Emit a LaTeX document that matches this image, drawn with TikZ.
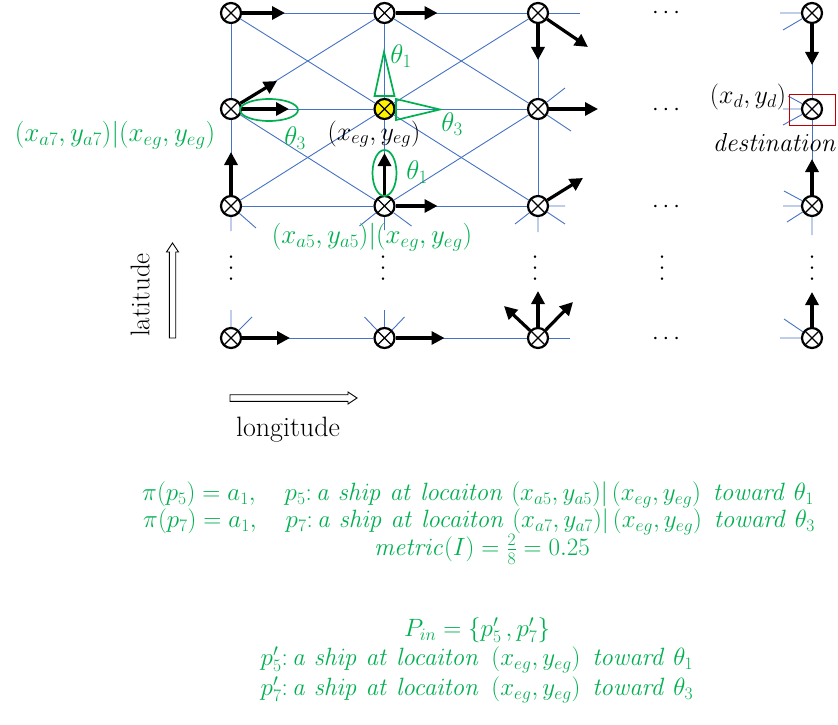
\RequirePackage{fix-cm}
\documentclass[tikz,border=0pt]{standalone}
\usepackage{amsmath, amssymb}
\usepackage{tikz}
\usepackage{xcolor}
\usetikzlibrary{arrows.meta}

\definecolor{netblue}{HTML}{4472C4}
\definecolor{shipgreen}{HTML}{00B050}
\definecolor{destred}{HTML}{C00000}

\begin{document}
\begin{tikzpicture}[x=1pt, y=-1pt,
	ship/.style={circle, draw, line width=2.2pt, minimum size=20pt, inner sep=0pt, fill=white,
		path picture={\draw[line width=1.1pt] (path picture bounding box.north west) -- (path picture bounding box.south east)
			(path picture bounding box.north east) -- (path picture bounding box.south west);}},
	link/.style={netblue, line width=0.9pt},
	heading/.style={line width=3.2pt, -{Triangle[length=13pt, width=13pt]}},
	sector/.style={shipgreen, line width=1.7pt},
	note/.style={shipgreen, inner sep=0pt, font=\fontsize{27}{30}\selectfont},
	tag/.style={inner sep=0pt, font=\fontsize{26}{30}\selectfont},
	eq/.style={shipgreen, inner sep=0pt, text height=16pt, text depth=5pt, font=\fontsize{25}{28}\selectfont},
	dots/.style={inner sep=0pt, text height=7pt, text depth=1pt, font=\fontsize{24}{24}\selectfont},
	hollow/.style={draw, line width=0.9pt, fill=white}]

	\useasboundingbox (0,0) rectangle (838,725);

	% ships on the grid
	\node[ship] (A1) at (231,13)  {};
	\node[ship] (A2) at (384.5,13) {};
	\node[ship] (A3) at (538,13)  {};
	\node[ship] (A5) at (812,13)  {};
	\node[ship] (B1) at (231,109) {};
	\node[ship, fill=yellow] (B2) at (384.5,109) {};
	\node[ship] (B3) at (538,109) {};
	\node[ship] (B5) at (812,109) {};
	\node[ship] (C1) at (231,206) {};
	\node[ship] (C2) at (384.5,206) {};
	\node[ship] (C3) at (538,206) {};
	\node[ship] (C5) at (812,206) {};
	\node[ship] (D1) at (231,338) {};
	\node[ship] (D2) at (384.5,338) {};
	\node[ship] (D3) at (538,338) {};
	\node[ship] (D5) at (812,338) {};

	% grid links
	\draw[link] (A1) -- (A2);
	\draw[link] (A2) -- (A3);
	\draw[link] (A3) -- ++(42,0);
	\draw[link] (B1) -- (B2);
	\draw[link] (B2) -- (B3);
	\draw[link] (C1) -- (C2);
	\draw[link] (C2) -- (C3);
	\draw[link] (D1) -- (D2);
	\draw[link] (D2) -- (D3);
	\draw[link] (D3) -- ++(32,0);
	\draw[link] (A1) -- (B1);
	\draw[link] (B1) -- (C1);
	\draw[link] (A2) -- (B2);
	\draw[link] (B2) -- (C2);
	\draw[link] (A3) -- (B3);
	\draw[link] (B3) -- (C3);
	\draw[link] (A5) -- (B5);
	\draw[link] (B5) -- (C5);
	\draw[link] (A1) -- (B2);
	\draw[link] (B1) -- (A2);
	\draw[link] (A2) -- (B3);
	\draw[link] (B2) -- (A3);
	\draw[link] (B1) -- (C2);
	\draw[link] (C1) -- (B2);
	\draw[link] (B2) -- (C3);
	\draw[link] (C2) -- (B3);

	% loose ends
	\draw[link] (B3) -- ++(27,-21) (B3) -- ++(33,22);
	\draw[link] (C1) -- ++(0,25) (C1) -- ++(25,22);
	\draw[link] (C2) -- ++(-25,20) (C2) -- ++(0,24) (C2) -- ++(27,20);
	\draw[link] (C3) -- ++(-23,18) (C3) -- ++(0,26) (C3) -- ++(27,18) (C3) -- ++(27,0);
	\draw[link] (D1) -- ++(0,-28) (D1) -- ++(21,-21);
	\draw[link] (D2) -- ++(-20,-21) (D2) -- ++(0,-28) (D2) -- ++(20,-21);
	\draw[link] (A5) -- ++(-32,0) (A5) -- ++(-29,17);
	\draw[link] (B5) -- ++(-24,-13) (B5) -- ++(-29,0) (B5) -- ++(-29,16);
	\draw[link] (C5) -- ++(-28,-15) (C5) -- ++(-29,0) (C5) -- ++(-25,16) (C5) -- ++(0,29);
	\draw[link] (D5) -- ++(-28,-19) (D5) -- ++(-32,0);

	% headings
	\draw[heading] (A1) -- ++(54,0);
	\draw[heading] (A2) -- ++(53,0);
	\draw[heading] (A3) -- ++(0,47);
	\draw[heading] (A3) -- ++(50,34);
	\draw[heading] (A5) -- ++(0,52);
	\draw[heading] (B1) -- ++(58,0);
	\draw[heading] (B1) -- ++(46,-28);
	\draw[heading] (B3) -- ++(60,0);
	\draw[heading] (C1) -- ++(0,-54);
	\draw[heading] (C2) -- ++(0,-53);
	\draw[heading] (C2) -- ++(53,0);
	\draw[heading] (C3) -- ++(45,-28);
	\draw[heading] (C5) -- ++(0,-47);
	\draw[heading] (D1) -- ++(59,0);
	\draw[heading] (D2) -- ++(60,0);
	\draw[heading] (D3) -- ++(0,-47);
	\draw[heading] (D3) -- ++(-34,-32);
	\draw[heading] (D3) -- ++(35,-36);
	\draw[heading] (D5) -- ++(0,-46);

	% sectors and matched ships
	\draw[sector] (374.5,96) -- (384,52) -- (394.5,96) -- cycle;
	\draw[sector] (396,99) -- (440,109.5) -- (396,120) -- cycle;
	\draw[sector] (269,110) ellipse [x radius=29pt, y radius=11pt];
	\draw[sector] (384.5,173) ellipse [x radius=12pt, y radius=23pt];
	\node[note] (th1) at (401,56)  {$\theta_1$};
	\node[note] (th3) at (452,124) {$\theta_3$};
	\node[note] (th3b) at (295,138) {$\theta_3$};
	\node[note] (th1b) at (417,172) {$\theta_1$};

	% labels
	\node[tag] (eg) at (374,134) {$(x_{eg},y_{eg})$};
	\node[note] (a7) at (115,135) {$(x_{a7},y_{a7})|(x_{eg},y_{eg})$};
	\node[note] (a5) at (372,237) {$(x_{a5},y_{a5})|(x_{eg},y_{eg})$};
	\node[tag] (xd) at (748,97) {$(x_d,y_d)$};
	\node[tag] (dest) at (775,142) {$\mathit{destination}$};
	\node[draw=destred, line width=1.8pt, minimum width=46pt, minimum height=31pt, inner sep=0pt] (goal) at (812.5,110) {};

	% dots
	\node[dots] (h1) at (668,16)  {$\cdots$};
	\node[dots] (h2) at (668,112) {$\cdots$};
	\node[dots] (h3) at (668,209) {$\cdots$};
	\node[dots] (h4) at (668,341) {$\cdots$};
	\node[dots, rotate=90] (v1) at (234,266) {$\cdots$};
	\node[dots, rotate=90] (v2) at (386,266) {$\cdots$};
	\node[dots, rotate=90] (v3) at (538,266) {$\cdots$};
	\node[dots, rotate=90] (v4) at (665,266) {$\cdots$};
	\node[dots, rotate=90] (v5) at (815,266) {$\cdots$};

	% axes
	\draw[hollow] (169.3,338) -- (169.3,252) -- (166.5,252) -- (172.5,243) -- (178.5,252) -- (175.7,252) -- (175.7,338) -- cycle;
	\draw[hollow] (230,394.7) -- (348,394.7) -- (348,392) -- (357,398) -- (348,404) -- (348,401.3) -- (230,401.3) -- cycle;
	\node[rotate=90, inner sep=0pt, font=\fontsize{27}{30}\selectfont] (lat) at (140,295) {latitude};
	\node[inner sep=0pt, font=\fontsize{28}{30}\selectfont] (lon) at (288,430) {longitude};

	% policy text
	\node[eq] (eq1) at (478,495) {$\pi(p_5)=a_1,\quad p_5{:}\,\mathit{a\ ship\ at\ locaiton}\ (x_{a5},y_{a5})|\left(x_{eg},y_{eg}\right)\ \mathit{toward}\ \theta_1$};
	\node[eq] (eq2) at (479,522) {$\pi(p_7)=a_1,\quad p_7{:}\,\mathit{a\ ship\ at\ locaiton}\ (x_{a7},y_{a7})|\left(x_{eg},y_{eg}\right)\ \mathit{toward}\ \theta_3$};
	\node[eq] (eq3) at (482,550) {$\mathit{metric}(I)=\tfrac{2}{8}=0.25$};
	\node[eq] (eq4) at (477,631) {$P_{in}=\{p'_5\,,p'_7\}$};
	\node[eq] (eq5) at (477,660) {$p'_5{:}\,\mathit{a\ ship\ at\ locaiton}\ \left(x_{eg},y_{eg}\right)\ \mathit{toward}\ \theta_1$};
	\node[eq] (eq6) at (477,690) {$p'_7{:}\,\mathit{a\ ship\ at\ locaiton}\ \left(x_{eg},y_{eg}\right)\ \mathit{toward}\ \theta_3$};
\end{tikzpicture}
\end{document}
